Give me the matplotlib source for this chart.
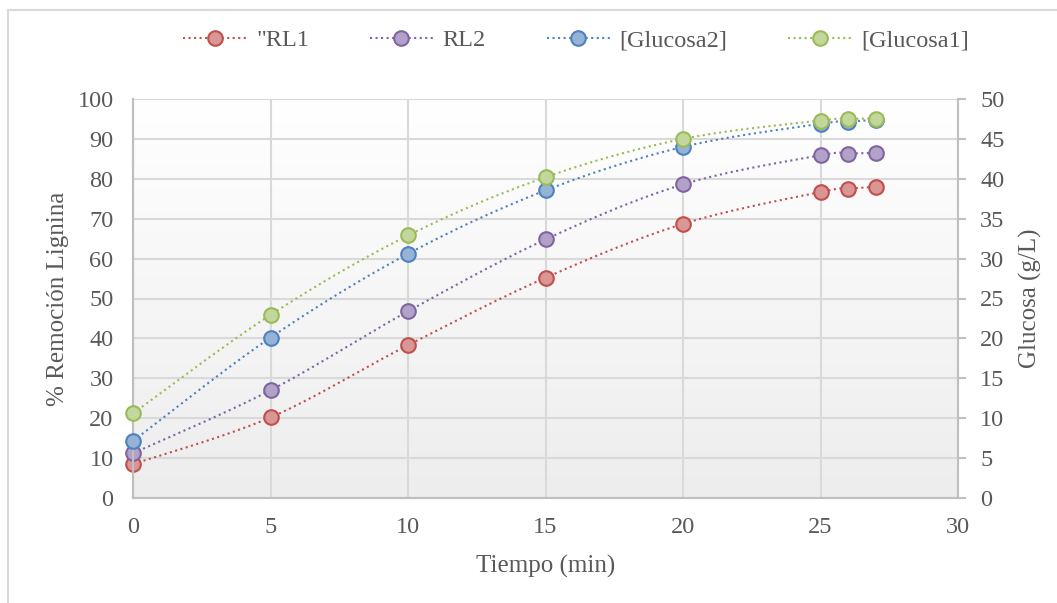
import numpy as np
import matplotlib.pyplot as plt
from matplotlib.patches import Rectangle
from matplotlib.colors import LinearSegmentedColormap

plt.rcParams['font.family'] = ['Liberation Serif', 'DejaVu Serif']

tiempo = [0, 5, 10, 15, 20, 25, 26, 27]
rl1 = [8.5, 20.2, 38.3, 55.2, 68.7, 76.7, 77.5, 78.0]
rl2 = [11.2, 27.0, 46.8, 64.8, 78.6, 85.9, 86.3, 86.5]
glucosa2 = [7.15, 20.1, 30.6, 38.55, 44.0, 46.9, 47.15, 47.4]
glucosa1 = [10.6, 22.95, 32.9, 40.2, 45.0, 47.3, 47.5, 47.55]

labels = ['"RL1', 'RL2', '[Glucosa2]', '[Glucosa1]']
faces = ['#d99694', '#b3a2c7', '#95b3d7', '#c3d69b']
edges = ['#c0504d', '#8064a2', '#4f81bd', '#9bbb59']
txt = '#595959'
grid = '#d9d9d9'


def smooth(x, y, n=30):
    # excel-like smoothed line (bezier through catmull-rom control points)
    x = np.asarray(x, float)
    y = np.asarray(y, float)
    px = np.concatenate([[x[0]], x, [x[-1]]])
    py = np.concatenate([[y[0]], y, [y[-1]]])
    xs, ys = [], []
    t = np.linspace(0, 1, n)
    for i in range(1, len(px) - 2):
        p0 = np.array([px[i], py[i]])
        p3 = np.array([px[i + 1], py[i + 1]])
        p1 = p0 + (np.array([px[i + 1], py[i + 1]]) - np.array([px[i - 1], py[i - 1]])) / 6
        p2 = p3 - (np.array([px[i + 2], py[i + 2]]) - np.array([px[i], py[i]])) / 6
        b = ((1 - t) ** 3)[:, None] * p0 + (3 * (1 - t) ** 2 * t)[:, None] * p1 \
            + (3 * (1 - t) * t ** 2)[:, None] * p2 + (t ** 3)[:, None] * p3
        xs.extend(b[:, 0])
        ys.extend(b[:, 1])
    return xs, ys


fig = plt.figure(figsize=(10.57, 6.03), dpi=100)
fig.patches.append(Rectangle((8 / 1057, -0.01), 1.0, 1 - 10 / 603 + 0.01, transform=fig.transFigure,
                             fill=False, edgecolor='#d9d9d9', linewidth=1.5))

ax = fig.add_axes([133 / 1057, 1 - 498 / 603, (958 - 133) / 1057, (498 - 99) / 603])
ax2 = ax.twinx()

# gradient background
grad = np.linspace(0, 1, 256)[:, None]
ax.imshow(grad, extent=[0, 1, 0, 1], transform=ax.transAxes,
          cmap=LinearSegmentedColormap.from_list('g', ['#ededed', '#ffffff']),
          origin='lower', aspect='auto', zorder=0)

ax.set_xlim(0, 30)
ax.set_ylim(0, 100)
ax2.set_ylim(0, 50)
ax.set_xticks(range(0, 31, 5))
ax.set_yticks(range(0, 101, 10))
ax2.set_yticks(range(0, 51, 5))
ax.grid(True, color=grid, linewidth=1.5, zorder=1)
ax.set_axisbelow(True)

series = [(ax, rl1), (ax, rl2), (ax2, glucosa2), (ax2, glucosa1)]
handles = []
for (a, vals), lab, fc, ec in zip(series, labels, faces, edges):
    sx, sy = smooth(tiempo, vals)
    a.plot(sx, sy, linestyle=':', color=ec, linewidth=1.5, zorder=3)
    a.plot(tiempo, vals, linestyle='none', marker='o', markersize=10.5, markerfacecolor=fc,
           markeredgecolor=ec, markeredgewidth=1.5, zorder=4, clip_on=False)
    h, = ax.plot([], [], linestyle=':', color=ec, linewidth=1.5, marker='o', markersize=10.5,
                 markerfacecolor=fc, markeredgecolor=ec, markeredgewidth=1.5, label=lab)
    handles.append(h)

for a in (ax, ax2):
    for s in a.spines.values():
        s.set_color('#bfbfbf')
        s.set_linewidth(1.5)
    a.spines['top'].set_visible(False)
ax.spines['right'].set_visible(False)
ax.tick_params(axis='both', length=0, colors=txt, labelsize=17.5, pad=14)
ax.tick_params(axis='x', pad=14)
ax2.tick_params(axis='y', length=6, width=1.5, color='#bfbfbf', colors=txt, labelsize=17.5, pad=10)
ax2.tick_params(axis='y', color='#bfbfbf')

ax.set_xlabel('Tiempo (min)', color=txt, fontsize=18, labelpad=12)
ax.set_ylabel('% Remoción Lignina', color=txt, fontsize=18, labelpad=6)
ax2.set_ylabel('Glucosa (g/L)', color=txt, fontsize=18, labelpad=10)

fig.legend(handles=handles, loc='center', bbox_to_anchor=(576 / 1057, 1 - 40 / 603), ncol=4, frameon=False,
           fontsize=17.5, labelcolor=txt, handlelength=2.6, columnspacing=2.5, handletextpad=0.4)

fig.savefig('out.png', dpi=100)
